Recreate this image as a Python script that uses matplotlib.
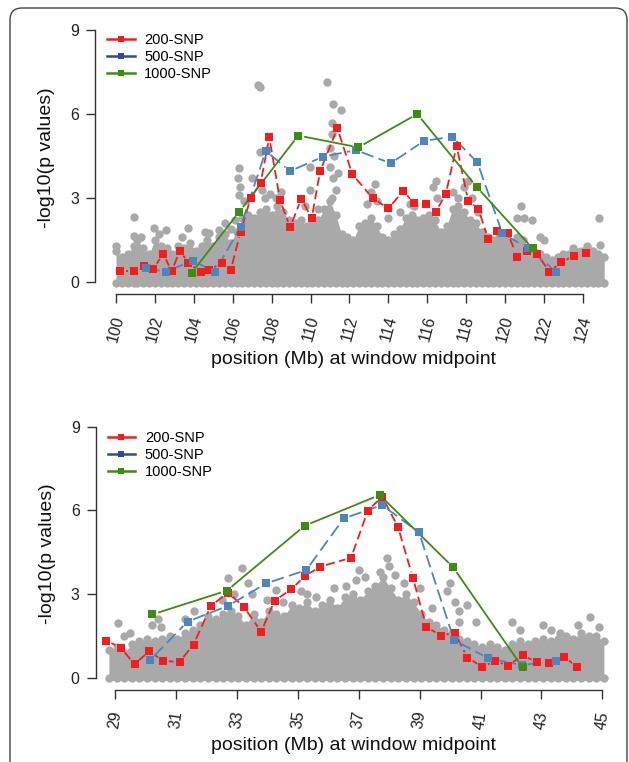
import numpy as np
import matplotlib
matplotlib.use('Agg')
import matplotlib.pyplot as plt
from matplotlib.lines import Line2D
from matplotlib.patches import FancyBboxPatch

plt.rcParams['font.family'] = ['Liberation Sans', 'DejaVu Sans']

# ---- panel 1 (100-124 Mb) -------------------------------------------------
top_red_x = [100.2, 100.94, 101.46, 101.92, 102.43, 102.86, 103.29, 103.72, 104.35, 104.78,
             105.43, 105.9, 106.41, 106.92, 107.44, 107.88, 108.43, 108.95, 109.53, 110.06,
             110.49, 111.38, 112.15, 113.2, 114.0, 114.77, 115.32, 115.94, 116.44, 116.95,
             117.51, 118.11, 118.63, 119.14, 119.6, 120.14, 120.63, 121.11, 121.66, 122.28,
             122.88, 123.56, 124.16]
top_red_y = [0.40, 0.40, 0.58, 0.48, 1.00, 0.39, 1.12, 0.67, 0.37, 0.43,
             0.67, 0.43, 1.80, 2.99, 3.55, 5.17, 2.93, 1.95, 2.98, 2.27,
             3.95, 5.49, 3.85, 2.99, 2.63, 3.25, 2.81, 2.77, 2.51, 3.13,
             4.86, 2.89, 2.60, 1.54, 1.82, 1.74, 0.90, 1.11, 0.99, 0.37,
             0.70, 0.94, 1.02]
top_blue_x = [101.53, 102.55, 103.94, 105.09, 106.41, 107.7, 108.95, 110.66, 112.34, 114.12,
              115.84, 117.29, 118.58, 119.86, 121.2, 122.62]
top_blue_y = [0.49, 0.37, 0.76, 0.37, 1.98, 4.68, 3.96, 4.48, 4.71, 4.24,
              5.04, 5.19, 4.27, 1.74, 1.20, 0.37]
top_green_x = [103.89, 106.34, 109.37, 112.46, 115.49, 118.54, 121.42]
top_green_y = [0.33, 2.51, 5.23, 4.81, 6.00, 3.40, 1.20]

# dense SNP band: position and top of the band
top_band_x = [100.0, 100.3, 100.6, 100.9, 101.1, 101.4, 101.7, 102.0, 102.3, 102.6,
              102.9, 103.2, 103.5, 103.8, 104.1, 104.4, 104.7, 105.0, 105.3, 105.6,
              105.9, 106.2, 106.5, 106.8, 107.1, 107.4, 107.7, 108.0, 108.3, 108.6,
              108.9, 109.2, 109.5, 109.8, 110.1, 110.4, 110.7, 111.0, 111.3, 111.6,
              111.9, 112.2, 112.5, 112.8, 113.1, 113.4, 113.7, 114.0, 114.3, 114.6,
              114.9, 115.2, 115.5, 115.8, 116.1, 116.4, 116.7, 117.0, 117.3, 117.6,
              117.9, 118.2, 118.5, 118.8, 119.1, 119.4, 119.7, 120.0, 120.3, 120.6,
              120.9, 121.2, 121.5, 121.8, 122.1, 122.4, 122.7, 123.0, 123.3, 123.6,
              123.9, 124.2, 124.5, 124.8, 125.1]
top_band_y = [1.1, 0.9, 1.0, 1.3, 1.5, 1.2, 1.0, 1.5, 1.3, 1.2,
              1.0, 1.3, 1.2, 1.4, 1.1, 1.3, 1.5, 1.3, 1.6, 1.7,
              1.4, 1.8, 2.3, 2.4, 2.3, 2.5, 2.6, 2.4, 2.7, 2.5,
              2.2, 2.1, 2.2, 2.0, 2.1, 2.2, 2.6, 2.9, 2.4, 1.7,
              1.6, 1.5, 2.0, 2.1, 2.3, 2.0, 1.6, 1.5, 1.7, 1.9,
              2.3, 2.4, 2.2, 2.3, 2.4, 2.2, 1.8, 2.0, 2.6, 2.7,
              2.5, 2.2, 2.1, 1.8, 1.6, 1.5, 1.6, 1.5, 1.4, 1.6,
              1.5, 1.2, 1.1, 1.0, 0.9, 0.8, 0.9, 1.0, 1.0, 1.1,
              1.1, 1.2, 1.1, 1.0, 0.9]
# single SNPs standing out above the band
top_snp_x = [100.0, 100.9, 100.9, 101.3, 101.95, 102.55, 102.2, 103.4, 103.72, 104.6,
             104.8, 105.3, 105.6, 105.9, 106.1, 106.3, 106.34, 106.25, 106.4, 106.6,
             107.0, 107.4, 107.75, 107.3, 107.4, 107.66, 107.92, 107.5, 108.2, 108.5,
             109.97, 109.97, 109.7, 110.4, 110.86, 111.17, 111.55, 111.09, 111.1, 111.0,
             111.2, 111.0, 111.15, 111.3, 111.1, 111.4, 112.9, 113.1, 113.3, 113.4,
             114.0, 114.6, 115.1, 115.3, 116.3, 116.45, 116.5, 117.3, 117.6, 117.9,
             118.1, 118.3, 118.6, 120.6, 120.8, 121.0, 121.4, 121.8, 122.0, 123.5,
             124.2, 124.85, 124.86]
top_snp_y = [1.3, 2.32, 1.65, 1.6, 1.93, 1.86, 1.7, 1.6, 1.94, 1.8,
             1.75, 1.86, 2.1, 1.9, 2.2, 3.1, 4.06, 3.7, 3.4, 2.9,
             3.7, 4.65, 4.7, 7.03, 6.95, 2.99, 3.14, 3.3, 3.0, 3.2,
             4.12, 3.29, 2.7, 2.6, 7.15, 6.36, 6.14, 5.67, 5.3, 4.8,
             4.5, 4.1, 3.7, 3.3, 3.0, 3.9, 2.8, 3.2, 3.5, 2.9,
             2.3, 2.5, 2.8, 2.7, 3.4, 3.6, 3.0, 3.2, 3.0, 3.4,
             3.6, 3.0, 2.5, 2.3, 2.7, 2.3, 2.2, 1.6, 1.5, 1.2,
             1.3, 2.27, 1.32]
top_ticks = [100, 102, 104, 106, 108, 110, 112, 114, 116, 118, 120, 122, 124]

# ---- panel 2 (29-45 Mb) ---------------------------------------------------
bot_red_x = [28.70, 29.19, 29.64, 30.13, 30.57, 31.12, 31.58, 32.15, 32.71, 33.22,
             33.80, 34.24, 34.79, 35.23, 35.74, 36.75, 37.30, 37.77, 38.29, 38.78,
             39.22, 39.69, 40.15, 40.57, 41.06, 41.48, 41.91, 42.38, 42.85, 43.25,
             43.75, 44.16]
bot_red_y = [1.33, 1.08, 0.48, 0.96, 0.60, 0.57, 1.19, 2.58, 3.05, 2.55,
             1.65, 2.76, 3.17, 3.64, 3.98, 4.30, 5.99, 6.49, 5.41, 3.58,
             1.83, 1.51, 1.61, 0.72, 0.39, 0.60, 0.43, 0.81, 0.55, 0.54,
             0.75, 0.39]
bot_blue_x = [30.15, 31.38, 32.70, 33.96, 35.28, 36.51, 37.77, 38.98, 40.13, 41.25,
              42.36, 43.47]
bot_blue_y = [0.63, 2.01, 2.57, 3.38, 3.86, 5.71, 6.19, 5.21, 1.35, 0.70,
              0.45, 0.61]
bot_green_x = [30.23, 32.67, 35.23, 37.69, 40.10, 42.38]
bot_green_y = [2.27, 3.12, 5.45, 6.55, 3.96, 0.37]

bot_band_x = [28.8, 29.05, 29.3, 29.55, 29.8, 30.05, 30.3, 30.55, 30.8, 31.05,
              31.3, 31.55, 31.8, 32.05, 32.3, 32.55, 32.8, 33.05, 33.3, 33.55,
              33.8, 34.05, 34.3, 34.55, 34.8, 35.05, 35.3, 35.55, 35.8, 36.05,
              36.3, 36.55, 36.8, 37.05, 37.3, 37.55, 37.8, 38.05, 38.3, 38.55,
              38.8, 39.05, 39.3, 39.55, 39.8, 40.05, 40.3, 40.55, 40.8, 41.05,
              41.3, 41.55, 41.8, 42.05, 42.3, 42.55, 42.8, 43.05, 43.3, 43.55,
              43.8, 44.05, 44.3, 44.55, 44.8, 45.05]
bot_band_y = [1.0, 1.1, 0.9, 1.2, 1.3, 1.4, 1.3, 1.4, 1.5, 1.4,
              1.6, 1.7, 1.9, 2.2, 2.1, 2.3, 2.4, 2.2, 1.9, 2.3,
              2.0, 2.4, 2.3, 2.2, 2.6, 2.5, 2.7, 2.4, 2.6, 2.8,
              2.5, 2.9, 3.0, 2.8, 3.1, 3.3, 3.6, 3.2, 2.8, 3.0,
              2.7, 2.3, 2.0, 1.9, 1.7, 1.6, 1.4, 1.3, 1.2, 1.1,
              1.2, 1.1, 1.0, 1.2, 1.3, 1.2, 1.3, 1.4, 1.3, 1.4,
              1.5, 1.4, 1.6, 1.5, 1.5, 1.3]
bot_snp_x = [29.1, 29.3, 29.5, 30.2, 30.4, 30.5, 31.6, 31.3, 32.5, 32.72,
             32.9, 33.17, 33.35, 33.5, 34.0, 34.3, 34.5, 35.1, 35.3, 35.6,
             36.2, 36.6, 36.9, 37.0, 37.2, 37.94, 38.0, 37.7, 38.2, 38.5,
             39.0, 39.4, 39.9, 40.0, 40.15, 40.3, 40.55, 40.3, 40.85, 42.05,
             42.3, 43.04, 43.3, 43.6, 44.2, 44.6, 44.9]
bot_snp_y = [1.95, 1.5, 1.6, 1.9, 2.1, 1.8, 2.4, 2.1, 2.8, 3.57,
             3.0, 3.93, 3.4, 3.0, 2.8, 3.15, 2.7, 3.1, 3.0, 2.9,
             3.2, 3.3, 3.5, 3.86, 3.6, 4.3, 4.0, 3.8, 3.7, 3.4,
             3.2, 2.5, 3.1, 3.4, 2.7, 2.4, 2.6, 2.0, 2.0, 2.0,
             1.7, 1.9, 1.7, 1.6, 1.9, 2.17, 1.8]
bot_ticks = [29, 31, 33, 35, 37, 39, 41, 43, 45]

series_labels = ['200-SNP', '500-SNP', '1000-SNP']
series_colors = ['#f81b1b', '#4a86bf', '#3f8c13']
legend_colors = ['#f81b1b', '#2b4c9b', '#3f8c13']
series_dashes = [(5, 2.5), (7, 3), None]

GRAY = '#a9a9a9'
DPI = 100


def gapped_line(ax, xs, ys, color, dashes, gap=6):
    # line between points that stops short of each marker (like R type="b")
    pts = ax.transData.transform(np.column_stack([xs, ys]))
    inv = ax.transData.inverted()
    for p0, p1 in zip(pts[:-1], pts[1:]):
        d = p1 - p0
        length = np.hypot(d[0], d[1])
        if length <= 2 * gap:
            continue
        u = d / length
        seg = inv.transform([p0 + u * gap, p1 - u * gap])
        kw = dict(color=color, lw=1.3, solid_capstyle='butt', zorder=3)
        if dashes is not None:
            kw['dashes'] = dashes
        ax.plot(seg[:, 0], seg[:, 1], **kw)


def panel(fig, rect, xlim, ylim, ticks, tick_rot, band_x, band_y, snp_x, snp_y,
          series, leg_y):
    ax = fig.add_axes(rect)
    ax.set_xlim(*xlim)
    ax.set_ylim(*ylim)

    # the dense cloud of SNPs: solid body with dotted edges
    ax.fill_between(band_x, -0.1, band_y, color=GRAY, lw=0, zorder=1)
    ax.plot(band_x, band_y, 'o', color=GRAY, ms=6, mew=0, zorder=1)
    ax.plot(band_x, [-0.02] * len(band_x), 'o', color=GRAY, ms=6, mew=0, zorder=1)
    ax.plot(snp_x, snp_y, 'o', color=GRAY, ms=6, mew=0, zorder=1)

    for (xs, ys), col, dsh in zip(series, series_colors, series_dashes):
        gapped_line(ax, xs, ys, col, dsh)
        ax.plot(xs, ys, 's', color=col, ms=6, mew=0, zorder=4)

    for s in ['top', 'right']:
        ax.spines[s].set_visible(False)
    ax.spines['left'].set_bounds(0, 9)
    ax.spines['bottom'].set_bounds(ticks[0], ticks[-1])
    for s in ['left', 'bottom']:
        ax.spines[s].set_color('#333333')
        ax.spines[s].set_linewidth(1.0)
    ax.set_yticks([0, 3, 6, 9])
    ax.set_xticks(ticks)
    ax.tick_params(axis='both', length=6.5, width=1.0, color='#333333',
                   labelsize=11.5, labelcolor='#222222')
    ax.tick_params(axis='y', pad=5)
    ax.tick_params(axis='x', pad=8)
    plt.setp(ax.get_xticklabels(), rotation=tick_rot)
    ax.set_ylabel('-log10(p values)', fontsize=14, color='#111111', labelpad=11)
    ax.set_xlabel('position (Mb) at window midpoint', fontsize=14, color='#111111',
                  labelpad=5)

    handles = [Line2D([], [], color=c, lw=1.8, marker='s', ms=4, mew=0)
               for c in legend_colors]
    ax.legend(handles, series_labels, loc='upper left', bbox_to_anchor=(0.023, leg_y),
              frameon=False, fontsize=10.5, handlelength=1.9, handletextpad=0.65,
              labelspacing=0.2, borderpad=0, borderaxespad=0)
    return ax


fig = plt.figure(figsize=(6.29, 7.62), dpi=DPI)

panel(fig, [95 / 629, 1 - 294 / 762, 517 / 629, 272 / 762],
      (98.92, 125.50), (-0.4286, 9.286), top_ticks, 75,
      top_band_x, top_band_y, top_snp_x, top_snp_y,
      [(top_red_x, top_red_y), (top_blue_x, top_blue_y), (top_green_x, top_green_y)],
      0.958)

panel(fig, [95.7 / 629, 1 - 690 / 762, 516.3 / 629, 272 / 762],
      (28.366, 45.317), (-0.441, 9.311), bot_ticks, 82,
      bot_band_x, bot_band_y, bot_snp_x, bot_snp_y,
      [(bot_red_x, bot_red_y), (bot_blue_x, bot_blue_y), (bot_green_x, bot_green_y)],
      0.952)

# outer frame with rounded top corners (bottom edge runs off the picture)
frame = FancyBboxPatch((10, -30), 617, 762 - 8 + 30,
                       boxstyle='round,pad=0,rounding_size=12',
                       transform=None, facecolor='none', edgecolor='#444444', lw=1.0)
fig.add_artist(frame)

fig.savefig('out.png', dpi=DPI)
